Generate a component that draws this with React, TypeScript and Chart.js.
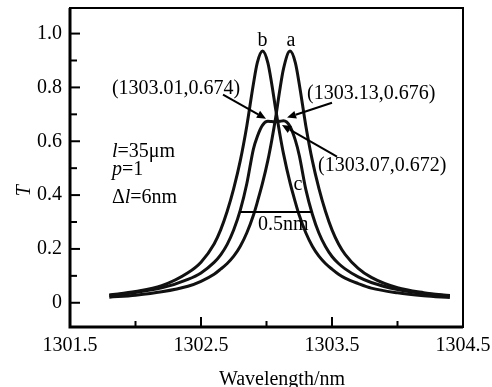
import React, { useEffect, useRef } from 'react';
import { Chart, registerables } from 'chart.js';

Chart.register(...registerables);

// Wavelength samples (nm)
const wavelengths = [
  1301.8, 1302.0, 1302.2, 1302.4, 1302.5, 1302.6, 1302.65, 1302.7, 1302.75, 1302.8,
  1302.85, 1302.9, 1302.93, 1302.97, 1303.01, 1303.04, 1303.07, 1303.1, 1303.13, 1303.18,
  1303.22, 1303.25, 1303.3, 1303.35, 1303.4, 1303.45, 1303.5, 1303.55, 1303.6, 1303.7,
  1303.8, 1304.0, 1304.2, 1304.4,
];

// Curve a (peak near 1303.18)
const curveA = [
  0.0208, 0.0283, 0.0407, 0.0615, 0.0799, 0.106, 0.125, 0.146, 0.173, 0.21,
  0.26, 0.325, 0.374, 0.445, 0.528, 0.603, 0.688, 0.786, 0.87, 0.935,
  0.892, 0.813, 0.658, 0.528, 0.425, 0.34, 0.271, 0.2185, 0.18, 0.128,
  0.0944, 0.0557, 0.0377, 0.0267,
];

// Curve b (peak near 1302.97)
const curveB = [
  0.0288, 0.0416, 0.0632, 0.1113, 0.1508, 0.2185, 0.271, 0.34, 0.425, 0.528,
  0.658, 0.813, 0.892, 0.935, 0.892, 0.813, 0.719, 0.632, 0.553, 0.445,
  0.374, 0.325, 0.26, 0.21, 0.173, 0.146, 0.125, 0.106, 0.0917, 0.0714,
  0.0544, 0.037, 0.0263, 0.0195,
];

// Curve c (flat top, centre 1303.07)
const curveC = [
  0.0275, 0.0383, 0.0552, 0.087, 0.111, 0.15, 0.178, 0.217, 0.271, 0.344,
  0.443, 0.571, 0.618, 0.66, 0.674, 0.673, 0.672, 0.674, 0.676, 0.655,
  0.604, 0.548, 0.421, 0.329, 0.259, 0.209, 0.172, 0.146, 0.126, 0.0963,
  0.0753, 0.0492, 0.0342, 0.0253,
];

const xTickValues = [1301.5, 1302.0, 1302.5, 1303.0, 1303.5, 1304.0, 1304.5];
const xTickLabels = ['1301.5', '', '1302.5', '', '1303.5', '', '1304.5'];
const yTickValues = [0, 0.1, 0.2, 0.3, 0.4, 0.5, 0.6, 0.7, 0.8, 0.9, 1.0];
const yTickLabels = ['0', '', '0.2', '', '0.4', '', '0.6', '', '0.8', '', '1.0'];

const xTitle = 'Wavelength/nm';
const yTitle = 'T';

// Annotation texts anchored in data coordinates
const curveLabels = [
  { text: 'b', x: 1302.97, y: 0.952 },
  { text: 'a', x: 1303.187, y: 0.952 },
  { text: 'c', x: 1303.24, y: 0.42 },
];
const pointLabels = [
  { text: '(1303.01,0.674)', x: 1301.82, y: 0.777 },
  { text: '(1303.13,0.676)', x: 1303.31, y: 0.758 },
  { text: '(1303.07,0.672)', x: 1303.393, y: 0.491 },
];
const arrows = [
  { x1: 1302.668, y1: 0.773, x2: 1302.996, y2: 0.684 },
  { x1: 1303.5, y1: 0.743, x2: 1303.157, y2: 0.688 },
  { x1: 1303.538, y1: 0.543, x2: 1303.118, y2: 0.66 },
];
const widthBar = { x1: 1302.8, x2: 1303.35, y: 0.337, text: '0.5nm', tx: 1302.935, ty: 0.271 };
const paramLines = [
  { y: 0.543, parts: [{ t: 'l', i: true }, { t: '=35\u03bcm', i: false }] },
  { y: 0.476, parts: [{ t: 'p', i: true }, { t: '=1', i: false }] },
  { y: 0.372, parts: [{ t: '\u0394', i: false }, { t: 'l', i: true }, { t: '=6nm', i: false }] },
];
const paramX = 1301.82;

const FONT_FAMILY = '"Liberation Serif", "Times New Roman", serif';
const FS = 20;

const overlayPlugin = {
  id: 'overlay',
  afterDraw(chart: any) {
    const { ctx, chartArea } = chart;
    const xs = chart.scales.x;
    const ys = chart.scales.y;
    const X = (v: number) => xs.getPixelForValue(v);
    const Y = (v: number) => ys.getPixelForValue(v);
    ctx.save();
    ctx.strokeStyle = '#000';
    ctx.fillStyle = '#000';
    // frame
    ctx.lineWidth = 2;
    ctx.strokeRect(chartArea.left, chartArea.top, chartArea.right - chartArea.left, chartArea.bottom - chartArea.top);
    ctx.lineWidth = 3;
    ctx.beginPath();
    ctx.moveTo(chartArea.left, chartArea.top);
    ctx.lineTo(chartArea.left, chartArea.bottom);
    ctx.lineTo(chartArea.right, chartArea.bottom);
    ctx.stroke();
    // inward ticks
    ctx.lineWidth = 2;
    xTickValues.forEach((v, i) => {
      const px = X(v);
      const len = xTickLabels[i] ? 10 : 6;
      ctx.beginPath();
      ctx.moveTo(px, chartArea.bottom);
      ctx.lineTo(px, chartArea.bottom - len);
      ctx.stroke();
    });
    yTickValues.forEach((v, i) => {
      const py = Y(v);
      const len = yTickLabels[i] ? 10 : 7;
      ctx.beginPath();
      ctx.moveTo(chartArea.left, py);
      ctx.lineTo(chartArea.left + len, py);
      ctx.stroke();
    });
    // axis titles
    ctx.font = `${FS}px ${FONT_FAMILY}`;
    ctx.textAlign = 'center';
    ctx.textBaseline = 'alphabetic';
    ctx.fillText(xTitle, X(1303.118), chart.height - 2);
    ctx.save();
    ctx.translate(chartArea.left - 40, Y(0.416));
    ctx.rotate(-Math.PI / 2);
    ctx.font = `italic ${FS}px ${FONT_FAMILY}`;
    ctx.fillText(yTitle, 0, 0);
    ctx.restore();
    // curve labels
    ctx.font = `${FS}px ${FONT_FAMILY}`;
    ctx.textAlign = 'center';
    curveLabels.forEach((l) => ctx.fillText(l.text, X(l.x), Y(l.y)));
    ctx.textAlign = 'left';
    pointLabels.forEach((l) => ctx.fillText(l.text, X(l.x), Y(l.y)));
    // arrows
    ctx.lineWidth = 2;
    arrows.forEach((a) => {
      const x1 = X(a.x1), y1 = Y(a.y1), x2 = X(a.x2), y2 = Y(a.y2);
      const ang = Math.atan2(y2 - y1, x2 - x1);
      const hl = 9, hw = 4;
      const bx = x2 - hl * Math.cos(ang), by = y2 - hl * Math.sin(ang);
      ctx.beginPath();
      ctx.moveTo(x1, y1);
      ctx.lineTo(bx, by);
      ctx.stroke();
      ctx.beginPath();
      ctx.moveTo(x2, y2);
      ctx.lineTo(bx + hw * Math.sin(ang), by - hw * Math.cos(ang));
      ctx.lineTo(bx - hw * Math.sin(ang), by + hw * Math.cos(ang));
      ctx.closePath();
      ctx.fill();
    });
    // width bar
    ctx.lineWidth = 2;
    ctx.beginPath();
    ctx.moveTo(X(widthBar.x1), Y(widthBar.y));
    ctx.lineTo(X(widthBar.x2), Y(widthBar.y));
    ctx.stroke();
    ctx.font = `${FS}px ${FONT_FAMILY}`;
    ctx.fillText(widthBar.text, X(widthBar.tx), Y(widthBar.ty));
    // parameter lines
    paramLines.forEach((line) => {
      let cx = X(paramX);
      const cy = Y(line.y);
      line.parts.forEach((p) => {
        ctx.font = `${p.i ? 'italic ' : ''}${FS}px ${FONT_FAMILY}`;
        ctx.fillText(p.t, cx, cy);
        cx += ctx.measureText(p.t).width;
      });
    });
    ctx.restore();
  },
};

export default function App() {
  const ref = useRef<HTMLCanvasElement | null>(null);
  useEffect(() => {
    if (!ref.current) return;
    const mk = (vals: number[]) => wavelengths.map((w, i) => ({ x: w, y: vals[i] }));
    const ds = (label: string, vals: number[]) => ({
      label,
      data: mk(vals),
      borderColor: '#111',
      borderWidth: 3,
      pointRadius: 0,
      fill: false,
      cubicInterpolationMode: 'monotone' as const,
    });
    const chart = new Chart(ref.current, {
      type: 'line',
      data: { datasets: [ds('a', curveA), ds('b', curveB), ds('c', curveC)] },
      options: {
        animation: false,
        responsive: false,
        devicePixelRatio: 1,
        layout: { padding: { top: 8, right: 29, left: 0, bottom: 0 } },
        plugins: { legend: { display: false }, tooltip: { enabled: false } },
        scales: {
          x: {
            type: 'linear',
            min: 1301.5,
            max: 1304.5,
            grid: { display: false, drawTicks: false },
            border: { display: false },
            afterBuildTicks: (s: any) => { s.ticks = xTickValues.map((v) => ({ value: v })); },
            afterFit: (s: any) => { s.height = 60; s.paddingLeft = 0; s.paddingRight = 0; s.paddingTop = 0; s.paddingBottom = 0; },
            ticks: {
              autoSkip: false,
              maxRotation: 0,
              padding: 7,
              color: '#000',
              font: { family: FONT_FAMILY, size: FS },
              callback: (v: any) => { const i = xTickValues.findIndex((t) => Math.abs(t - v) < 1e-6); return i >= 0 ? xTickLabels[i] : ''; },
            },
          },
          y: {
            type: 'linear',
            min: -0.09,
            max: 1.095,
            grid: { display: false, drawTicks: false },
            border: { display: false },
            afterBuildTicks: (s: any) => { s.ticks = yTickValues.map((v) => ({ value: v })); },
            afterFit: (s: any) => { s.width = 70; s.paddingLeft = 0; s.paddingRight = 0; s.paddingTop = 0; s.paddingBottom = 0; },
            ticks: {
              autoSkip: false,
              padding: 8,
              color: '#000',
              font: { family: FONT_FAMILY, size: FS },
              callback: (v: any) => { const i = yTickValues.findIndex((t) => Math.abs(t - v) < 1e-6); return i >= 0 ? yTickLabels[i] : ''; },
            },
          },
        },
      },
      plugins: [overlayPlugin],
    });
    return () => chart.destroy();
  }, []);
  return (
    <div style={{ position: 'absolute', left: 0, top: 0, width: 492, height: 387, background: '#fff' }}>
      <canvas ref={ref} width={492} height={387} style={{ display: 'block' }} />
    </div>
  );
}
